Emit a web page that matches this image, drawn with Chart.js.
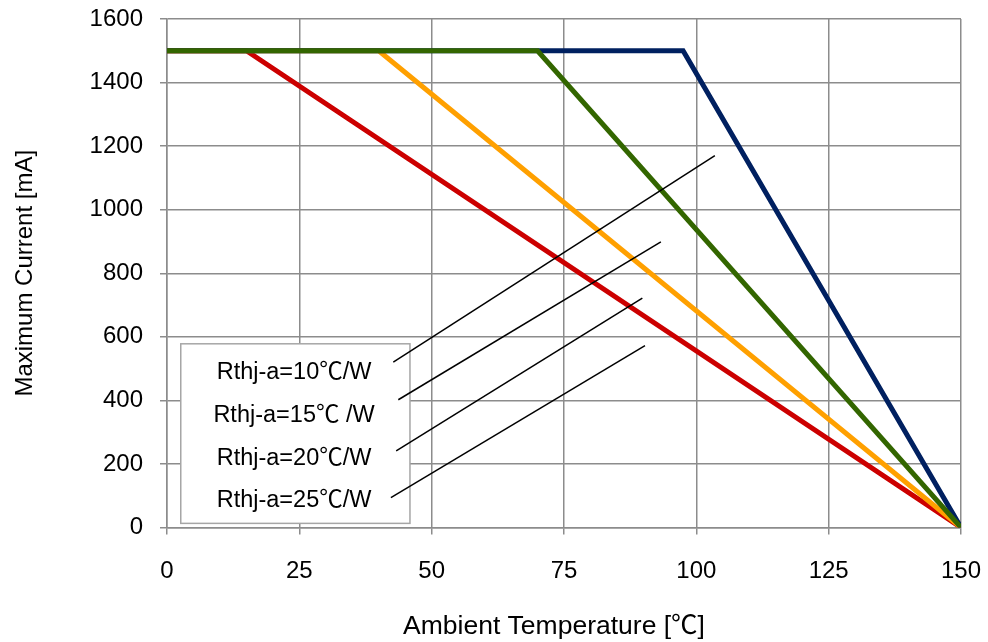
<!DOCTYPE html>
<html>
<head>
<meta charset="utf-8">
<script src="https://cdn.jsdelivr.net/npm/chart.js@4/dist/chart.umd.min.js"></script>
<style>
html,body{margin:0;padding:0;background:#ffffff;}
#wrap{width:988px;height:642px;position:relative;}
</style>
</head>
<body>
<div id="wrap"><canvas id="c" width="988" height="642"></canvas></div>
<script>
// ---- Data ----
const seriesNames = ['Rthj-a=10℃/W', 'Rthj-a=15℃ /W', 'Rthj-a=20℃/W', 'Rthj-a=25℃/W'];
const tempR10 = [0, 97.5, 150];
const currR10 = [1500, 1500, 0];
const tempR15 = [0, 70, 150];
const currR15 = [1500, 1500, 0];
const tempR20 = [0, 40, 150];
const currR20 = [1500, 1500, 0];
const tempR25 = [0, 15, 150];
const currR25 = [1500, 1500, 0];
const xTickValues = [0, 25, 50, 75, 100, 125, 150];
const yTickValues = [0, 200, 400, 600, 800, 1000, 1200, 1400, 1600];
// leader lines from the label box to the curves (data coordinates)
const leaderStartX = [42.75, 43.7, 43.3, 42.3];
const leaderStartY = [520, 402, 241, 94];
const leaderEndX = [103.5, 93.3, 89.8, 90.3];
const leaderEndY = [1170, 899, 722, 572];
const xTitle = 'Ambient Temperature [℃]';
const yTitle = 'Maximum Current [mA]';

// ---- Styling ----
const LATIN = "'Liberation Sans', Arial, sans-serif";
const CJK = "'Noto Sans CJK JP', 'Noto Sans CJK SC', sans-serif";
Chart.defaults.font.family = LATIN;
Chart.defaults.font.size = 24;
Chart.defaults.color = '#000000';

const seriesColors = ['#002060', '#336600', '#FFA000', '#CC0000'];
const seriesOrder = [1, 0, 2, 3]; // green drawn on top

function pts(xs, ys) { return xs.map((x, i) => ({x: x, y: ys[i]})); }

const curveData = [pts(tempR10, currR10), pts(tempR15, currR15), pts(tempR20, currR20), pts(tempR25, currR25)];

const datasets = curveData.map((d, i) => ({
  label: seriesNames[i],
  data: d,
  borderColor: seriesColors[i],
  backgroundColor: seriesColors[i],
  borderWidth: 5,
  pointRadius: 0,
  fill: false,
  tension: 0,
  order: seriesOrder[i] + 10
}));

leaderStartX.forEach((sx, i) => {
  datasets.push({
    label: 'leader' + i,
    data: [{x: sx, y: leaderStartY[i]}, {x: leaderEndX[i], y: leaderEndY[i]}],
    borderColor: '#000000',
    borderWidth: 1.5,
    pointRadius: 0,
    fill: false,
    order: 0
  });
});

// draw text where the ℃ sign uses the CJK font, the rest Liberation Sans
function drawMixed(ctx, text, cx, cy, size) {
  const parts = text.split(/(℃)/).filter(s => s.length);
  const fontFor = p => (p === '℃' ? size + 'px ' + CJK : size + 'px ' + LATIN);
  const widths = parts.map(p => { ctx.font = fontFor(p); return ctx.measureText(p).width; });
  const total = widths.reduce((a, b) => a + b, 0);
  let x = cx - total / 2;
  const baseY = cy + size * 0.358;
  ctx.textAlign = 'left';
  ctx.textBaseline = 'alphabetic';
  parts.forEach((p, i) => {
    ctx.font = fontFor(p);
    ctx.fillText(p, x, baseY);
    x += widths[i];
  });
}

// label box (in data coordinates)
const boxX0 = 2.6, boxX1 = 45.9, boxY0 = 13, boxY1 = 578;
const labelCenterX = 24.0;
const labelRowY = [494, 359, 222, 90];

const labelBoxPlugin = {
  id: 'labelBox',
  beforeDatasetsDraw(chart) {
    const ctx = chart.ctx;
    const xs = chart.scales.x, ys = chart.scales.y;
    const l = xs.getPixelForValue(boxX0), r = xs.getPixelForValue(boxX1);
    const t = ys.getPixelForValue(boxY1), b = ys.getPixelForValue(boxY0);
    ctx.save();
    ctx.fillStyle = '#ffffff';
    ctx.fillRect(l, t, r - l, b - t);
    ctx.strokeStyle = '#a6a6a6';
    ctx.lineWidth = 1.5;
    ctx.strokeRect(l, t, r - l, b - t);
    ctx.fillStyle = '#000000';
    seriesNames.forEach((name, i) => {
      drawMixed(ctx, name, xs.getPixelForValue(labelCenterX), ys.getPixelForValue(labelRowY[i]), 23.5);
    });
    ctx.restore();
  },
  afterDraw(chart) {
    const ctx = chart.ctx;
    const area = chart.chartArea;
    ctx.save();
    ctx.fillStyle = '#000000';
    drawMixed(ctx, xTitle, (area.left + area.right) / 2 - 10, chart.height - 17, 26.5);
    ctx.restore();
  }
};

const GRID = '#8c8c8c';

new Chart(document.getElementById('c'), {
  type: 'line',
  data: { datasets: datasets },
  options: {
    responsive: false,
    animation: false,
    devicePixelRatio: 1,
    layout: { padding: { left: 0, right: 27, top: 19, bottom: 0 } },
    plugins: { legend: { display: false }, tooltip: { enabled: false } },
    scales: {
      x: {
        type: 'linear',
        min: 0, max: 150,
        afterBuildTicks(s) { s.ticks = xTickValues.map(v => ({value: v})); },
        afterFit(s) { s.height = 114.5; s.paddingLeft = 0; s.paddingRight = 0; },
        grid: { color: GRID, lineWidth: 1.5, tickLength: 7, drawTicks: true },
        border: { color: GRID, width: 1.5 },
        ticks: { padding: 22, maxRotation: 0, font: { size: 24 }, callback: v => String(v) },
        title: { display: false, text: xTitle }
      },
      y: {
        type: 'linear',
        min: 0, max: 1600,
        afterBuildTicks(s) { s.ticks = yTickValues.map(v => ({value: v})); },
        afterFit(s) { s.width = 167; s.paddingTop = 0; s.paddingBottom = 0; },
        grid: { color: GRID, lineWidth: 1.5, tickLength: 7, drawTicks: true },
        border: { color: GRID, width: 1.5 },
        ticks: { padding: 17, font: { size: 24 }, callback: v => String(v) },
        title: { display: true, text: yTitle, font: { size: 24 }, padding: { top: 11, bottom: 0 } }
      }
    }
  },
  plugins: [labelBoxPlugin]
});
</script>
</body>
</html>
